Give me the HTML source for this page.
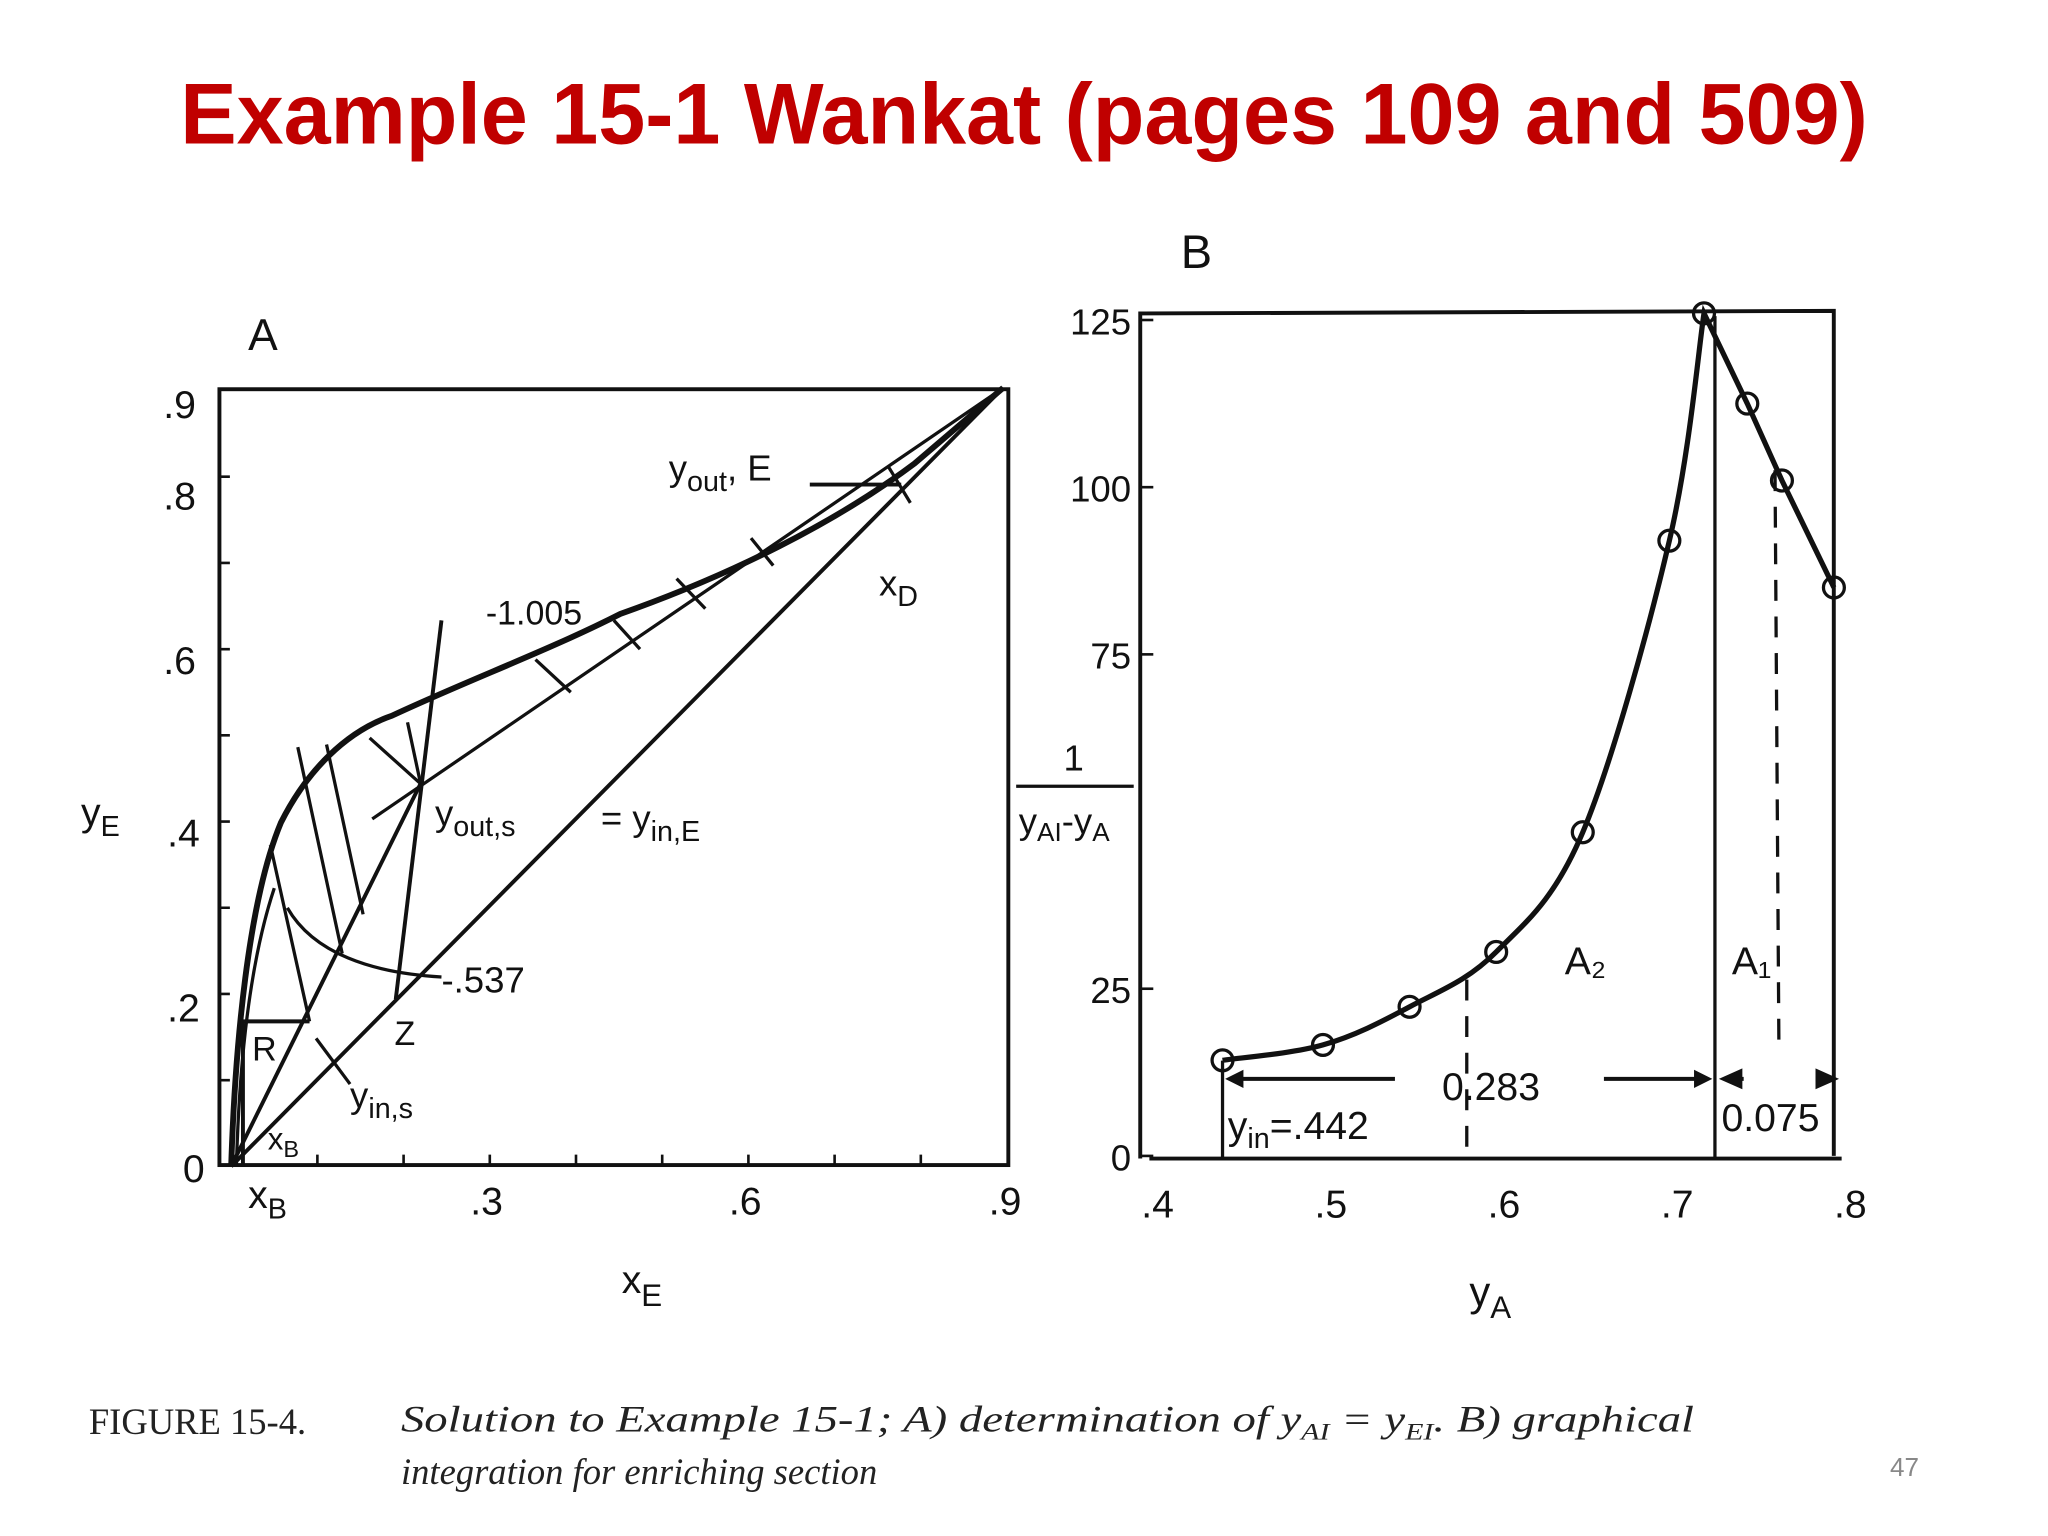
<!DOCTYPE html>
<html><head><meta charset="utf-8"><style>
html,body{margin:0;padding:0;background:#fff;}
svg{display:block;}
.t{font-family:"Liberation Sans",sans-serif;fill:#111;}
</style></head><body>
<svg width="2048" height="1536" viewBox="0 0 1568 1176">
<text x="784" y="110" text-anchor="middle" textLength="1292" lengthAdjust="spacingAndGlyphs" style="font-family:'Liberation Sans',sans-serif;font-weight:bold;font-size:66px;fill:#c00000">Example 15-1 Wankat (pages 109 and 509)</text>

<g id="chartA" stroke="#111" fill="none">
<rect x="168" y="298" width="604" height="594" stroke-width="3"/>
<text class="t" x="190" y="268" font-size="34" stroke="none">A</text>
<path d="M177,893 L768,297" stroke-width="3"/>
<path d="M285,627 L768,297" stroke-width="2.5"/>
<path d="M177,893 C180,800 190,690 215,630 C235,590 265,560 300,548 C360,520 420,498 475,470 C560,440 640,400 700,355 L768,297" stroke-width="4.5"/>
<path d="M181,893 C183,820 190,740 210,680" stroke-width="2.5"/>
<path d="M177,893 L322,600" stroke-width="3"/>
<path d="M303,765 L338,475" stroke-width="3"/>
<path d="M207,647 L237,782 M228,572 L262,730 M250,570 L278,700 M283,565 L322,600 M312,553 L322,600 M410,505 L437,530 M470,475 L490,497 M518,443 L540,466 M575,412 L592,433 M680,357 L697,385" stroke-width="2.5"/>
<path d="M186,893 L186,782 L237,782" stroke-width="3"/>
<path d="M220,695 C240,730 285,745 338,748" stroke-width="2.5"/>
<path d="M620,371 L690,371" stroke-width="3"/>
<path d="M268,830 L242,795" stroke-width="2.5"/>
<g stroke-width="2"><path d="M243,892v-8M309,892v-8M375,892v-8M441,892v-8M507,892v-8M573,892v-8M639,892v-8M705,892v-8M168,827h8M168,761h8M168,695h8M168,629h8M168,563h8M168,497h8M168,431h8M168,365h8"/></g>
<g class="t" stroke="none" font-size="30">
<text x="140" y="905">0</text>
<text x="128" y="782">.2</text>
<text x="128" y="648">.4</text>
<text x="125" y="516">.6</text>
<text x="125" y="390">.8</text>
<text x="125" y="320">.9</text>
<text x="360" y="930">.3</text>
<text x="558" y="930">.6</text>
<text x="757" y="930">.9</text>
<text x="190" y="925">x<tspan font-size="22" dy="8">B</tspan></text>
<text x="476" y="990">x<tspan font-size="24" dy="10">E</tspan></text>
<text x="62" y="632">y<tspan font-size="22" dy="8">E</tspan></text>
<text x="512" y="368" font-size="28">y<tspan font-size="22" dy="8">out</tspan><tspan dy="-8">, E</tspan></text>
<text x="673" y="456" font-size="28">x<tspan font-size="22" dy="8">D</tspan></text>
<text x="372" y="478" font-size="26">-1.005</text>
<text x="333" y="632" font-size="28">y<tspan font-size="22" dy="8">out,s</tspan></text>
<text x="460" y="636" font-size="28">= y<tspan font-size="22" dy="8">in,E</tspan></text>
<text x="338" y="760" font-size="28">-.537</text>
<text x="302" y="800" font-size="26">Z</text>
<text x="193" y="812" font-size="26">R</text>
<text x="268" y="848" font-size="28">y<tspan font-size="22" dy="8">in,s</tspan></text>
<text x="205" y="880" font-size="24">x<tspan font-size="18" dy="6">B</tspan></text>
</g>
</g>

<g id="chartB"></g>

<text x="68" y="1098" style="font-family:'Liberation Serif',serif;font-size:28px;fill:#222">FIGURE 15-4.</text>
<text x="307" y="1096" textLength="990" lengthAdjust="spacingAndGlyphs" style="font-family:'Liberation Serif',serif;font-style:italic;font-size:28px;fill:#222">Solution to Example 15-1; A) determination of y<tspan font-size="18" dy="6">AI</tspan><tspan dy="-6"> = y</tspan><tspan font-size="18" dy="6">EI</tspan><tspan dy="-6">. B) graphical</tspan></text>
<text x="307" y="1136" style="font-family:'Liberation Serif',serif;font-style:italic;font-size:28px;fill:#222">integration for enriching section</text>
<text x="1447" y="1130" style="font-family:'Liberation Sans',sans-serif;font-size:20px;fill:#888">47</text>
</svg>
<script>
const yaVals = [0.442, 0.5, 0.55, 0.6, 0.65, 0.7, 0.72, 0.745, 0.765, 0.795];
const invVals = [14.3, 16.6, 22.3, 30.5, 48.4, 92, 126, 112.5, 101, 85];
const xTicksB = [0.4, 0.5, 0.6, 0.7, 0.8];
const xTickLabelsB = [".4", ".5", ".6", ".7", ".8"];
const yTicksB = [0, 25, 75, 100, 125];
const yTickLabelsB = ["0", "25", "75", "100", "125"];
const NS = "http://www.w3.org/2000/svg";
const X = v => 936 + (v - 0.442) * 1326;
const Y = v => 885 - 5.12 * v;
const g = document.getElementById('chartB');
function mk(tag, attrs, txt) { const e = document.createElementNS(NS, tag); for (const k in attrs) e.setAttribute(k, attrs[k]); if (txt !== undefined) e.textContent = txt; g.appendChild(e); return e; }
function sub(parent, txt, size, dy) { const s = document.createElementNS(NS, 'tspan'); s.setAttribute('font-size', size); s.setAttribute('dy', dy); s.textContent = txt; parent.appendChild(s); return s; }
let e;
e = mk('path', {d: 'M873,887 L873,240 L1404,238 L1404,885 M880,887 L1410,887', stroke: '#111', 'stroke-width': 3, fill: 'none'});


e = mk('text', {x: 904, y: 205, 'font-size': 36, class: 't'}, 'B');


xTicksB.forEach((t, i) => {
  e = mk('text', {x: X(t) + 6, y: 932, 'font-size': 30, class: 't', 'text-anchor': 'middle'}, xTickLabelsB[i]);
  
  
});
yTicksB.forEach((t, i) => {
  e = mk('text', {x: 866, y: Y(t) + 11, 'font-size': 28, class: 't', 'text-anchor': 'end'}, yTickLabelsB[i]);
  
  
  e = mk('line', {x1: 873, x2: 883, y1: Y(t), y2: Y(t), stroke: '#111', 'stroke-width': 2});
  
  
});
const pk = 6;
let d = 'M' + X(yaVals[0]) + ',' + Y(invVals[0]);
for (let i = 0; i < pk; i++) {
  const p0 = i > 0 ? i - 1 : i, p3 = i + 2 <= pk ? i + 2 : pk;
  const x0 = X(yaVals[p0]), y0 = Y(invVals[p0]), x1 = X(yaVals[i]), y1 = Y(invVals[i]);
  const x2 = X(yaVals[i + 1]), y2 = Y(invVals[i + 1]), x3 = X(yaVals[p3]), y3 = Y(invVals[p3]);
  d += ' C' + (x1 + (x2 - x0) / 6) + ',' + (y1 + (y2 - y0) / 6) + ' ' + (x2 - (x3 - x1) / 6) + ',' + (y2 - (y3 - y1) / 6) + ' ' + x2 + ',' + y2;
}
for (let i = pk + 1; i < yaVals.length; i++) d += ' L' + X(yaVals[i]) + ',' + Y(invVals[i]);
e = mk('path', {d: d, stroke: '#111', 'stroke-width': 4, fill: 'none'});


yaVals.forEach((v, i) => {
  e = mk('circle', {cx: X(v), cy: Y(invVals[i]), r: 8, stroke: '#111', 'stroke-width': 2.5, fill: 'none'});
  
  
});
e = mk('path', {d: 'M936,812 L936,887 M1313,242 L1313,887', stroke: '#111', 'stroke-width': 2.5, fill: 'none'});


e = mk('path', {d: 'M1123,750 L1123,887 M1359,360 L1362,805', stroke: '#111', 'stroke-width': 2.5, fill: 'none', 'stroke-dasharray': '16,12'});


e = mk('path', {d: 'M945,826 L1068,826 M1228,826 L1305,826 M1320,826 L1335,826 M1390,826 L1405,826', stroke: '#111', 'stroke-width': 3, fill: 'none'});


e = mk('path', {d: 'M938,826 l14,-7 v14z M1311,826 l-14,-7 v14z M1316,826 l18,-8 v16z M1408,826 l-18,-8 v16z', fill: '#111'});


e = mk('text', {x: 940, y: 872, 'font-size': 30, class: 't'}, 'y');
sub(e, 'in', 22, 7);
const t2 = sub(e, '=.442', 30, -7);


const labels = [[1104, 842, '0.283', 'label-width-a2'], [1318, 866, '0.075', 'label-width-a1'], [1198, 746, 'A₂', 'label-a2'], [1326, 746, 'A₁', 'label-a1']];
labels.forEach(l => {
  e = mk('text', {x: l[0], y: l[1], 'font-size': 30, class: 't'}, l[2]);
  
  
});
e = mk('text', {x: 1125, y: 1000, 'font-size': 32, class: 't'}, 'y');
sub(e, 'A', 24, 9);


e = mk('text', {x: 822, y: 590, 'font-size': 28, class: 't', 'text-anchor': 'middle'}, '1');


e = mk('line', {x1: 778, x2: 868, y1: 602, y2: 602, stroke: '#111', 'stroke-width': 2.5});


e = mk('text', {x: 780, y: 638, 'font-size': 28, class: 't'}, 'y');
sub(e, 'AI', 20, 6);
sub(e, '-y', 28, -6);
sub(e, 'A', 20, 6);


</script>
</body></html>
